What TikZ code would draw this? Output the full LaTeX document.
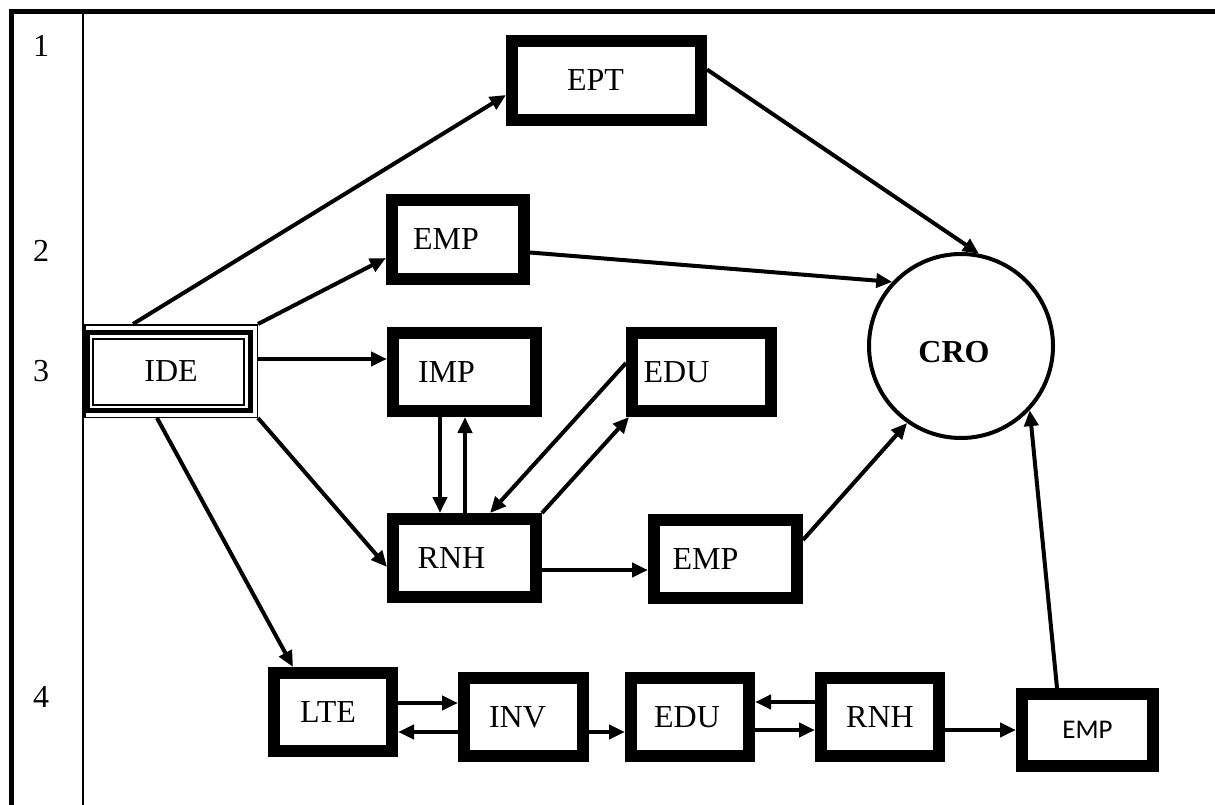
\documentclass[tikz,border=0pt]{standalone}
\usepackage{fontspec}
\setmainfont{Liberation Serif}
\newfontfamily\calfont{Carlito}
\usetikzlibrary{arrows.meta}
\begin{document}
\begin{tikzpicture}[x=1pt,y=-1pt,
  font=\fontsize{32}{37}\selectfont,
  bx/.style 2 args={draw,line width=12pt,inner sep=0pt,minimum width=#1pt-12pt,minimum height=#2pt-12pt},
  arr/.style={line width=4pt,-{Triangle[length=16pt,width=14pt]}},
  rowlab/.style={inner sep=0pt}]
\useasboundingbox (0,0) rectangle (1215,805);
% frame
\draw[line width=5pt] (1215,12) -- (11.5,12) -- (11.5,805);
\draw[line width=2.2pt] (83,14) -- (83,805);
% row labels
\node[rowlab] (r1) at (41,46) {1};
\node[rowlab] (r2) at (41,251) {2};
\node[rowlab] (r3) at (41,371) {3};
\node[rowlab] (r4) at (41,697) {4};
% IDE
\node[draw,line width=1.5pt,minimum width=172.5pt,minimum height=92.5pt,inner sep=0pt] (ide) at (171,371) {IDE};
\draw[line width=4.5pt] (87.5,332.5) rectangle (250.5,410.5);
\draw[line width=1.3pt] (93,339) rectangle (244,405);
% boxes
\node[bx={201}{91},label={[xshift=-11pt]center:EPT}] (ept) at (606.5,80.5) {};
\node[bx={144}{91},label={[xshift=-12pt]center:EMP}] (emp2) at (458,239.5) {};
\node[bx={155}{90},label={[xshift=-18pt]center:IMP}] (imp) at (464.5,372) {};
\node[bx={151}{90},label={[xshift=-25pt]center:EDU}] (edu1) at (701.5,372) {};
\node[bx={155}{90},label={[xshift=-13pt]center:RNH}] (rnh1) at (464.5,558) {};
\node[bx={155}{90},label={[xshift=-20pt]center:EMP}] (emp3) at (725.5,559) {};
\node[bx={130}{90},label={[xshift=-5pt]center:LTE}] (lte) at (333,712) {};
\node[bx={131}{90},label={[xshift=-6pt]center:INV}] (inv) at (523.5,717) {};
\node[bx={130}{90},label={[xshift=-3pt]center:EDU}] (edu2) at (690,717) {};
\node[bx={130}{90}] (rnh2) at (880,717) {RNH};
\node[bx={143}{84},font=\calfont\fontsize{27}{32}\selectfont] (emp4) at (1087.5,730) {EMP};
% CRO
\node[draw,circle,line width=4pt,minimum size=184pt,inner sep=0pt,
  label={[xshift=-7pt,yshift=-6pt]center:\textbf{CRO}}] (cro) at (961,346) {};
% connectors
\draw[arr] ([shift={(-38,0)}]ide.north) -- ([shift={(0,14.5)}]ept.west);
\draw[arr] (ide.north east) -- ([shift={(0,18.5)}]emp2.west);
\draw[arr] ([shift={(0,-12)}]ide.east) -- ([shift={(0,-13)}]imp.west);
\draw[arr] (ide.south east) -- ([shift={(0,9)}]rnh1.west);
\draw[arr] ([shift={(-14,0)}]ide.south) -- ([shift={(-40,0)}]lte.north);
\draw[arr] ([shift={(0,-11)}]ept.east) -- (cro.79);
\draw[arr] ([shift={(0,13)}]emp2.east) -- (cro.137);
\draw[arr] ([shift={(-24.5,0)}]imp.south) -- ([shift={(-24.5,0)}]rnh1.north);
\draw[arr] ([shift={(0.5,0)}]rnh1.north) -- ([shift={(0.5,0)}]imp.south);
\draw[arr] ([shift={(0,-9)}]edu1.west) -- ([shift={(25.5,0)}]rnh1.north);
\draw[arr] (rnh1.north east) -- ([shift={(3,0)}]edu1.south west);
\draw[arr] ([shift={(0,12)}]rnh1.east) -- ([shift={(0,11)}]emp3.west);
\draw[arr] ([shift={(0,-19)}]emp3.east) -- (cro.235);
\draw[arr] ([shift={(0,-9)}]lte.east) -- ([shift={(0,-14)}]inv.west);
\draw[arr] ([shift={(0,15)}]inv.west) -- ([shift={(0,20)}]lte.east);
\draw[arr] ([shift={(0,15)}]inv.east) -- ([shift={(0,15)}]edu2.west);
\draw[arr] ([shift={(0,-15)}]rnh2.west) -- ([shift={(0,-15)}]edu2.east);
\draw[arr] ([shift={(0,13)}]edu2.east) -- ([shift={(0,13)}]rnh2.west);
\draw[arr] ([shift={(0,13)}]rnh2.east) -- (emp4.west);
\draw[arr] ([shift={(-30.5,0)}]emp4.north) -- (cro.-43);
\end{tikzpicture}
\end{document}
